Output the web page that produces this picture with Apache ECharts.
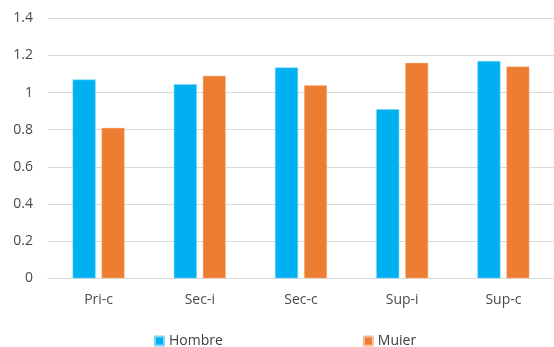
<!DOCTYPE html>
<html>
<head>
<meta charset="utf-8">
<script src="https://cdn.jsdelivr.net/npm/echarts@6/dist/echarts.min.js"></script>
<style>html,body{margin:0;padding:0;background:#fff;}#c{width:554px;height:347px;}</style>
</head>
<body>
<div id="c"></div>
<script>
var categories = ['Pri-c', 'Sec-i', 'Sec-c', 'Sup-i', 'Sup-c'];
var hombre = [1.07, 1.045, 1.135, 0.91, 1.17];
var muier = [0.81, 1.09, 1.04, 1.16, 1.14];
var seriesNames = ['Hombre', 'Muier'];
var yTicks = [0, 0.2, 0.4, 0.6, 0.8, 1, 1.2, 1.4];

var chart = echarts.init(document.getElementById('c'));
var font = '"Open Sans", "Noto Sans", sans-serif';
chart.setOption({
  animation: false,
  grid: { left: 48, right: -5, top: 18.3, bottom: 68.7 },
  legend: {
    left: 149, top: 329, itemWidth: 9, itemHeight: 9, itemGap: 140,
    icon: 'rect',
    textStyle: { fontFamily: font, fontSize: 14, color: '#404040', padding: [0, 0, 0, 0] },
    data: seriesNames
  },
  xAxis: {
    type: 'category', data: categories,
    axisLine: { lineStyle: { color: '#d9d9d9', width: 1 } },
    axisTick: { show: false },
    axisLabel: { fontFamily: font, fontSize: 14, color: '#4a4a4a', margin: 15 }
  },
  yAxis: {
    type: 'value', min: 0, max: 1.4, interval: 0.2,
    axisLine: { show: false }, axisTick: { show: false },
    splitLine: { lineStyle: { color: '#d9d9d9', width: 1 } },
    axisLabel: { fontFamily: font, fontSize: 14, color: '#4a4a4a', margin: 15,
      formatter: function (v) { var t = yTicks.find(function (x) { return Math.abs(x - v) < 1e-6; }); return t === undefined ? '' : String(t); } }
  },
  series: [
    { name: seriesNames[0], type: 'bar', data: hombre, barWidth: 23, barGap: '26%',
      itemStyle: { color: '#00b0f0', borderColor: '#7fd7f7', borderWidth: 0.5 } },
    { name: seriesNames[1], type: 'bar', data: muier, barWidth: 23,
      itemStyle: { color: '#ed7d31', borderColor: '#f6be98', borderWidth: 0.5 } }
  ]
});
</script>
</body>
</html>
